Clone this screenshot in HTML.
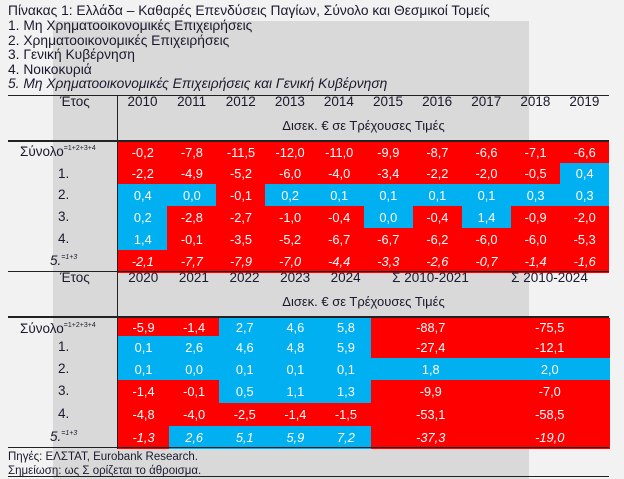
<!DOCTYPE html>
<html><head><meta charset="utf-8">
<style>
body{margin:0;width:624px;height:479px;background:#f2f2f2;position:relative;overflow:hidden;font-family:"Liberation Sans","DejaVu Sans",sans-serif;color:#1a1a2e}
.a{position:absolute;white-space:nowrap}
.t{font-size:13.8px;left:8px;line-height:14.6px}
.hl{position:absolute;left:8px;width:601px;background:#222;height:1px}
.cell{position:absolute;color:#fff;font-size:12.8px;text-align:center;display:flex;align-items:center;justify-content:center}
.lab{position:absolute;font-size:13.5px}
sup{font-size:7px;vertical-align:6px}
</style></head><body>
<div class="a" style="left:53px;top:21px;width:476px;height:458px;background:#d9d9d9"></div>
<div class="a t" style="top:4px">Πίνακας 1: Ελλάδα – Καθαρές Επενδύσεις Παγίων, Σύνολο και Θεσμικοί Τομείς</div>
<div class="a t" style="top:19px">1. Μη Χρηματοοικονομικές Επιχειρήσεις</div>
<div class="a t" style="top:33.5px">2. Χρηματοοικονομικές Επιχειρήσεις</div>
<div class="a t" style="top:48px">3. Γενική Κυβέρνηση</div>
<div class="a t" style="top:62.5px">4. Νοικοκυριά</div>
<div class="a t" style="top:77px;font-style:italic">5. Μη Χρηματοοικονομικές Επιχειρήσεις και Γενική Κυβέρνηση</div>
<div id="tbl"></div>
<div class="a" style="left:8px;top:450px;font-size:11.5px;line-height:14px">Πηγές: ΕΛΣΤΑΤ, Eurobank Research.<br>Σημείωση: ως Σ ορίζεται το άθροισμα.</div>
<script>
const topYears=["2010","2011","2012","2013","2014","2015","2016","2017","2018","2019"];
const botHeads=["2020","2021","2022","2023","2024","Σ 2010-2021","Σ 2010-2024"];
const rowLabels=["Σύνολο","1.","2.","3.","4.","5."];
const rowSups=["=1+2+3+4","","","","","=1+3"];
const topVals=[
[-0.2,-7.8,-11.5,-12.0,-11.0,-9.9,-8.7,-6.6,-7.1,-6.6],
[-2.2,-4.9,-5.2,-6.0,-4.0,-3.4,-2.2,-2.0,-0.5,0.4],
[0.4,0.0,-0.1,0.2,0.1,0.1,0.1,0.1,0.3,0.3],
[0.2,-2.8,-2.7,-1.0,-0.4,0.0,-0.4,1.4,-0.9,-2.0],
[1.4,-0.1,-3.5,-5.2,-6.7,-6.7,-6.2,-6.0,-6.0,-5.3],
[-2.1,-7.7,-7.9,-7.0,-4.4,-3.3,-2.6,-0.7,-1.4,-1.6]];
const botVals=[
[-5.9,-1.4,2.7,4.6,5.8,-88.7,-75.5],
[0.1,2.6,4.6,4.8,5.9,-27.4,-12.1],
[0.1,0.0,0.1,0.1,0.1,1.8,2.0],
[-1.4,-0.1,0.5,1.1,1.3,-9.9,-7.0],
[-4.8,-4.0,-2.5,-1.4,-1.5,-53.1,-58.5],
[-1.3,2.6,5.1,5.9,7.2,-37.3,-19.0]];
const unit="Δισεκ. € σε Τρέχουσες Τιμές";
const T=document.getElementById('tbl');
function mk(cls,css,txt){const d=document.createElement('div');d.className=cls;d.style.cssText=css;if(txt!==undefined)d.innerHTML=txt;T.appendChild(d);return d;}
const fmt=v=>v.toFixed(1).replace('.',',');
function block(heads,vals,colX,headY,bodyY,rowYs,pre){
  let h=mk('a','left:60px;top:'+(headY-9)+'px;font-size:13.5px','Έτος');
  
  
  heads.forEach((s,i)=>{
    const e=mk('a','left:'+colX[i]+'px;width:'+(colX[i+1]-colX[i])+'px;top:'+(headY-9)+'px;font-size:13.5px;text-align:center',s);
    
    
  });
  const u=mk('a','left:118px;width:491px;top:'+(headY+15)+'px;font-size:13px;text-align:center',unit);
  
  
  vals.forEach((row,r)=>{
    const lb=mk('lab','top:'+(rowYs[r]+3)+'px;'+(r==0?'left:20px':'left:'+(r==5?50:58)+'px')+(r==5?';font-style:italic':''),rowLabels[r]+(rowSups[r]?'<sup>'+rowSups[r]+'</sup>':''));
    
    
    row.forEach((v,c)=>{
      const e=mk('cell','left:'+colX[c]+'px;width:'+(colX[c+1]-colX[c]+0.5)+'px;top:'+rowYs[r]+'px;height:'+(rowYs[r+1]-rowYs[r]+0.5)+'px;background:'+(v>=0?'#00b0f0':'#ff0000')+(r==5?';font-style:italic':''),fmt(v));
      
      
    });
  });
}
const cx1=[];for(let i=0;i<=10;i++)cx1.push(118+i*49.1);
block(topYears,topVals,cx1,103,0,[141,163,184,206,228,250,272],'top-');
const cx2=[];for(let i=0;i<=5;i++)cx2.push(118+i*50.6);cx2.push(490,609);
block(botHeads,botVals,cx2,279,0,[318,336,358,380,403,426,448],'bottom-');
[[96,1],[141,2],[272,1],[317,2],[448,1],[477,1]].forEach(([y,h])=>{
  const l=mk('hl','top:'+(y-1)+'px;height:'+h+'px');
  
  
});
const v=mk('a','left:117px;top:96px;width:1px;height:353px;background:#222');


</script>
</body></html>
